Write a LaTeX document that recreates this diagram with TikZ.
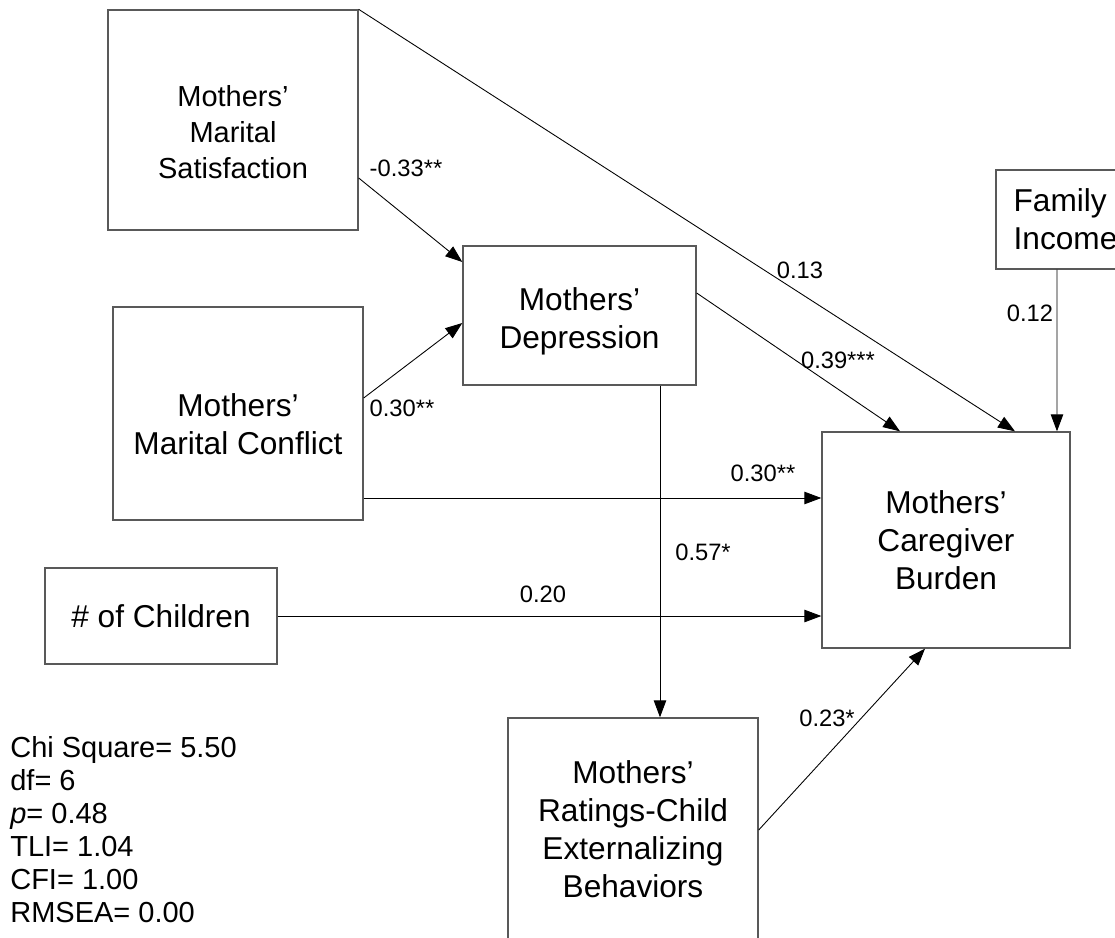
\documentclass[tikz,border=0pt]{standalone}
\usepackage{fontspec}
\setmainfont{Liberation Sans}
\usepackage{tikz}
\usetikzlibrary{arrows.meta,positioning,calc}

\begin{document}
\begin{tikzpicture}[x=0.02cm, y=-0.02cm,
    box/.style={draw=black!65, line width=0.8pt, inner sep=0pt},
    boxtext/.style={align=center, inner sep=0pt, font=\fontsize{18}{21.6}\selectfont},
    coef/.style={inner sep=1pt, font=\fontsize{13.5}{16}\selectfont},
    arrow/.style={-{Triangle[length=0.34cm, width=0.25cm]}, line width=0.5pt, black}
    ]
    \useasboundingbox (0,0) rectangle (1115,937);

    % boxes
    \node[box, minimum width=5cm, minimum height=4.4cm,
        label={[boxtext, font=\fontsize{16.5}{20.5}\selectfont, yshift=-0.24cm]center:{Mothers'\\Marital\\Satisfaction}}] (sat) at (233,120) {};
    \node[box, minimum width=5cm, minimum height=4.26cm,
        label={[boxtext, yshift=-0.21cm]center:{Mothers'\\Marital Conflict}}] (conf) at (238,413.5) {};
    \node[box, minimum width=4.66cm, minimum height=2.78cm,
        label={[boxtext, yshift=-0.11cm]center:{Mothers'\\Depression}}] (dep) at (579.5,315.5) {};
    \node[box, minimum width=2.78cm, minimum height=1.98cm,
        label={[boxtext, align=left]center:{Family\\Income}}] (inc) at (1065.5,219.5) {};
    \node[box, minimum width=4.96cm, minimum height=4.32cm,
        label={[boxtext]center:{Mothers'\\Caregiver\\Burden}}] (bur) at (946,540) {};
    \node[box, minimum width=4.64cm, minimum height=1.92cm,
        label={[boxtext]center:{\# of Children}}] (chi) at (161,616) {};
    \node[box, minimum width=5cm, minimum height=4.84cm,
        label={[boxtext, yshift=0.19cm]center:{Mothers'\\Ratings-Child\\Externalizing\\Behaviors}}] (rat) at (633,839) {};

    % paths
    \draw[arrow] ([yshift=-1.16cm]sat.east) -- ([yshift=1.07cm]dep.west);
    \draw[arrow] ([yshift=0.31cm]conf.east) -- ([yshift=-0.15cm]dep.west);
    \draw[arrow] (sat.north east) -- ([xshift=1.38cm]bur.north);
    \draw[arrow] ([yshift=0.45cm]dep.east) -- ([xshift=-0.92cm]bur.north);
    \draw[arrow] ([xshift=-0.17cm]inc.south) -- ([xshift=2.22cm]bur.north);
    \draw[arrow] ([yshift=-1.69cm]conf.east) coordinate (confOut) -- (confOut -| bur.west);
    \draw[arrow] (chi.east) -- (chi.east -| bur.west);
    \draw[arrow] ([xshift=1.61cm]dep.south) coordinate (depOut) -- (depOut |- rat.north);
    \draw[arrow] ([yshift=0.18cm]rat.east) -- ([xshift=-0.42cm]bur.south);

    % coefficients
    \node[coef] (cSatDep) at (406,168) {-0.33**};
    \node[coef] (cConfDep) at (402,408) {0.30**};
    \node[coef] (cSatBur) at (800,270) {0.13};
    \node[coef] (cDepBur) at (838,360) {0.39***};
    \node[coef] (cIncBur) at (1030,313) {0.12};
    \node[coef] (cConfBur) at (763,473) {0.30**};
    \node[coef] (cDepRat) at (703,552) {0.57*};
    \node[coef] (cChiBur) at (543,594) {0.20};
    \node[coef] (cRatBur) at (827,718) {0.23*};

    % fit indices
    \node[anchor=west, align=left, inner sep=0pt, font=\fontsize{16.5}{18.8}\selectfont] (fit) at (10,830)
        {Chi Square= 5.50\\df= 6\\\textit{p}= 0.48\\TLI= 1.04\\CFI= 1.00\\RMSEA= 0.00};
\end{tikzpicture}
\end{document}
